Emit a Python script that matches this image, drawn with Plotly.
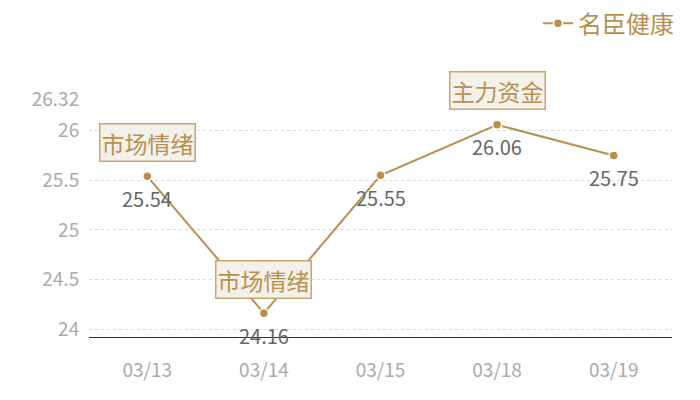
import plotly.graph_objects as go

# chart data
dates = ['03/13', '03/14', '03/15', '03/18', '03/19']
prices = [25.54, 24.16, 25.55, 26.06, 25.75]
series_name = '名臣健康'
tags = ['市场情绪', '市场情绪', '', '主力资金', '']
y_ticks = [24, 24.5, 25, 25.5, 26, 26.32]
y_tick_text = ['24', '24.5', '25', '25.5', '26', '26.32']

gold = '#b8904f'
font = 'Noto Sans CJK SC, Noto Sans, sans-serif'

fig = go.Figure()
fig.add_trace(go.Scatter(
    x=dates, y=prices, name=series_name, mode='lines+markers',
    line=dict(color=gold, width=2),
    marker=dict(color=gold, size=9, line=dict(color='white', width=1.5)),
))

# value labels under the points
for d, p in zip(dates, prices):
    fig.add_annotation(x=d, y=p, text=f'{p:.2f}', showarrow=False, yshift=-22,
                       font=dict(size=20, color='#666666', family=font))

# tag boxes above some points
for d, p, t in zip(dates, prices, tags):
    if t:
        fig.add_annotation(x=d, y=p, text=t, showarrow=False, yshift=34,
                           font=dict(size=23, color=gold, family=font),
                           bgcolor='#f4f0ea', bordercolor='#c9a66b',
                           borderwidth=1.5, borderpad=1)

# page body has an 8px margin, so the figure is a bit smaller
fig.update_layout(
    width=692, height=392,
    margin=dict(l=81, r=28, t=91, b=63),
    paper_bgcolor='white', plot_bgcolor='white',
    font=dict(family=font),
    showlegend=True,
    legend=dict(orientation='h', x=1.012, xanchor='right', y=0.96, yanchor='middle',
                yref='container', font=dict(size=24, color=gold), itemwidth=30),
    xaxis=dict(type='category', range=[-0.5, 4.5], showgrid=False,
               showline=True, linecolor='#333333', linewidth=1,
               ticks='outside', ticklen=16, tickcolor='rgba(0,0,0,0)',
               tickfont=dict(size=19, color='#aaaaaa')),
    yaxis=dict(range=[23.92, 26.32], tickvals=y_ticks, ticktext=y_tick_text,
               showgrid=True, gridcolor='#d9d9d9', griddash='dot', zeroline=False,
               showline=False, ticks='outside', ticklen=5,
               tickcolor='rgba(0,0,0,0)',
               tickfont=dict(size=19, color='#aaaaaa')),
)

fig.write_html('out.html')
